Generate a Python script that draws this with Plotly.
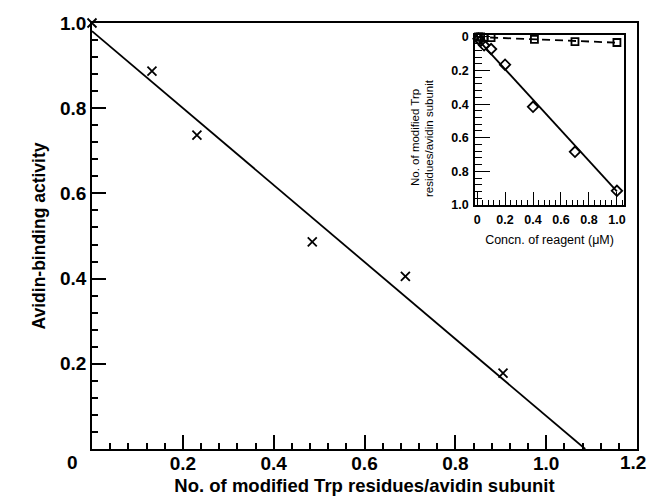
import plotly.graph_objects as go

# Main panel data
main_x = [0.0, 0.132, 0.231, 0.485, 0.69, 0.905]
main_y = [1.0, 0.887, 0.737, 0.486, 0.405, 0.178]
fit_x = [0.0, 1.086]
fit_y = [0.981, 0.0]

main_xticks = [0.2, 0.4, 0.6, 0.8, 1.0, 1.2]
main_xlabels = ["0.2", "0.4", "0.6", "0.8", "1.0", ""]
main_yticks = [0.2, 0.4, 0.6, 0.8, 1.0]
main_ylabels = ["0.2", "0.4", "0.6", "0.8", "1.0"]

# Inset data
dia_x = [0.01, 0.025, 0.05, 0.1, 0.2, 0.4, 0.7, 1.0]
dia_y = [0.01, 0.025, 0.05, 0.072, 0.165, 0.416, 0.684, 0.916]
sq_x = [0.01, 0.025, 0.05, 0.1, 0.41, 0.70, 1.0]
sq_y = [0.0, 0.0, 0.002, 0.004, 0.014, 0.028, 0.033]
solid_x = [0.0, 1.0]
solid_y = [0.01, 0.92]
dash_x = [0.0, 1.0]
dash_y = [0.0, 0.034]

in_ticks = [0, 0.2, 0.4, 0.6, 0.8, 1.0]
in_labels = ["0", "0.2", "0.4", "0.6", "0.8", "1.0"]

FONT = "Liberation Sans, Arial, sans-serif"

fig = go.Figure()
fig.add_trace(go.Scatter(x=fit_x, y=fit_y, mode="lines",
                         line=dict(color="black", width=1.8), cliponaxis=False))
fig.add_trace(go.Scatter(x=main_x, y=main_y, mode="markers", cliponaxis=False,
                         marker=dict(symbol="x-thin", size=9, line=dict(color="black", width=1.8))))

fig.add_trace(go.Scatter(x=dash_x, y=dash_y, mode="lines", xaxis="x2", yaxis="y2",
                         line=dict(color="black", width=1.8, dash="8px,5px")))
fig.add_trace(go.Scatter(x=solid_x, y=solid_y, mode="lines", xaxis="x2", yaxis="y2",
                         line=dict(color="black", width=1.8)))
fig.add_trace(go.Scatter(x=dia_x, y=dia_y, mode="markers", xaxis="x2", yaxis="y2", cliponaxis=False,
                         marker=dict(symbol="diamond-open", size=8, color="black",
                                     line=dict(color="black", width=1.8))))
fig.add_trace(go.Scatter(x=sq_x, y=sq_y, mode="markers", xaxis="x2", yaxis="y2", cliponaxis=False,
                         marker=dict(symbol="square-open", size=7, color="black",
                                     line=dict(color="black", width=1.8))))

axis_common = dict(showgrid=False, zeroline=False, showline=True, linecolor="black",
                   linewidth=1.8, mirror=True, ticks="inside", tickcolor="black",
                   automargin=False)

fig.update_layout(
    width=649, height=500,
    margin=dict(l=92, r=12, t=23, b=51),
    paper_bgcolor="white", plot_bgcolor="white",
    showlegend=False,
    font=dict(family=FONT, color="black"),
    xaxis=dict(**axis_common, range=[0, 1.2], tickvals=main_xticks, ticktext=main_xlabels,
               ticklen=14, tickwidth=1.6, ticklabelstandoff=-4,
               minor=dict(dtick=0.04, tick0=0, ticks="inside", ticklen=6, tickwidth=1.6, tickcolor="black"),
               tickfont=dict(size=19, family=FONT, weight="bold"),
               title=dict(text="No. of modified Trp residues/avidin subunit",
                          font=dict(size=18.5, family=FONT, weight="bold"), standoff=6)),
    yaxis=dict(**axis_common, range=[0, 1.0], tickvals=main_yticks, ticktext=main_ylabels,
               ticklen=14, tickwidth=1.6, ticklabelstandoff=0,
               minor=dict(dtick=0.04, tick0=0, ticks="inside", ticklen=6, tickwidth=1.6, tickcolor="black"),
               tickfont=dict(size=19, family=FONT, weight="bold"),
               title=dict(text="Avidin-binding activity",
                          font=dict(size=17.5, family=FONT, weight="bold"), standoff=10)),
    xaxis2=dict(**axis_common, domain=[0.703, 0.976], anchor="y2", range=[-0.014, 1.05],
                tickvals=in_ticks, ticktext=in_labels, ticklen=13, tickwidth=1.3, ticklabelstandoff=2,
                minor=dict(dtick=0.04, tick0=0, ticks="inside", ticklen=5, tickwidth=1.3, tickcolor="black"),
                tickfont=dict(size=12.5, family=FONT, weight="bold"),
                title=dict(text="Concn. of reagent (μM)", font=dict(size=12.5, family=FONT), standoff=9)),
    yaxis2=dict(**axis_common, domain=[0.573, 0.972], anchor="x2", range=[1.0, -0.012],
                tickvals=in_ticks, ticktext=in_labels, ticklen=15, tickwidth=1.3, ticklabelstandoff=2,
                minor=dict(dtick=0.04, tick0=0, ticks="inside", ticklen=7, tickwidth=1.3, tickcolor="black"),
                tickfont=dict(size=12.5, family=FONT, weight="bold")),
    annotations=[
        dict(text="0", x=-20/545, y=-13/426, xref="paper", yref="paper", showarrow=False,
             xanchor="center", yanchor="middle", font=dict(size=19, family=FONT, weight="bold")),
        dict(text="1.2", x=1.2, y=-13/426, xref="x", yref="paper", showarrow=False,
             xanchor="center", yanchor="middle", xshift=-4, font=dict(size=19, family=FONT, weight="bold")),
        dict(text="No. of modified Trp", x=(415-92)/545, y=(449-138)/426, xref="paper", yref="paper",
             showarrow=False, textangle=-90, xanchor="center", yanchor="middle",
             font=dict(size=11.5, family=FONT)),
        dict(text="residues/avidin subunit", x=(429-92)/545, y=(449-138)/426, xref="paper", yref="paper",
             showarrow=False, textangle=-90, xanchor="center", yanchor="middle",
             font=dict(size=11.5, family=FONT)),
    ],
)

fig.write_html("out.html")
